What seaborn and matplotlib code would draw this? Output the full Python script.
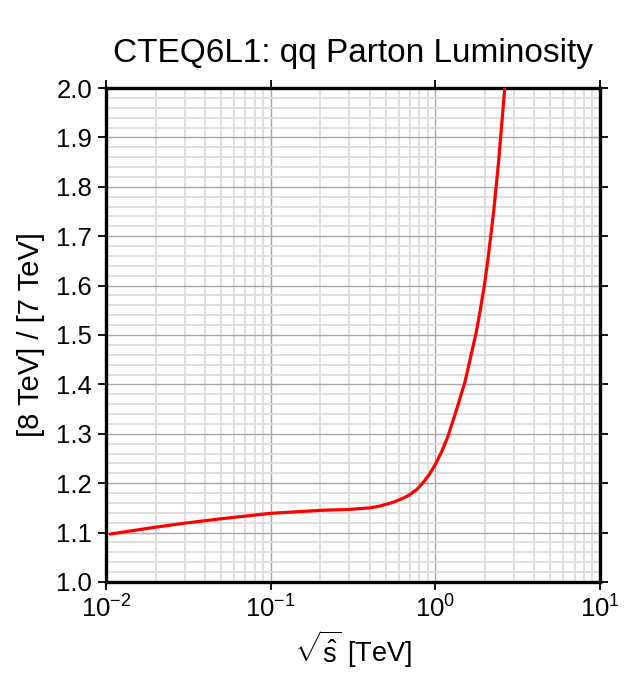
import numpy as np
import pandas as pd
import seaborn as sns
import matplotlib.pyplot as plt
from matplotlib.ticker import MultipleLocator, LogLocator, NullFormatter

# values
sqrt_s = [0.0106, 0.02, 0.03, 0.05, 0.1, 0.2, 0.3, 0.4, 0.45, 0.5, 0.55, 0.6, 0.65, 0.7,
          0.77, 0.837, 0.92, 1.0, 1.09, 1.19, 1.34, 1.51, 1.63, 1.77, 1.88, 1.99, 2.08,
          2.17, 2.26, 2.34, 2.42, 2.49, 2.565, 2.64]
lumi_ratio = [1.097, 1.111, 1.119, 1.128, 1.139, 1.145, 1.147, 1.150, 1.153, 1.157, 1.161,
              1.166, 1.171, 1.177, 1.187, 1.200, 1.218, 1.238, 1.263, 1.294, 1.347, 1.404,
              1.452, 1.505, 1.553, 1.603, 1.650, 1.700, 1.750, 1.800, 1.850, 1.900, 1.950,
              2.000]

title = "CTEQ6L1: qq Parton Luminosity"
x_label = r"$\sqrt{\hat{\mathrm{s}}}$ [TeV]"
y_label = "[8 TeV] / [7 TeV]"

sns.set_theme(style="ticks")
plt.rcParams['font.family'] = ['Liberation Sans', 'DejaVu Sans']
plt.rcParams['mathtext.fontset'] = 'custom'
plt.rcParams['mathtext.rm'] = 'Liberation Sans'
plt.rcParams['mathtext.it'] = 'Liberation Sans:italic'
plt.rcParams['text.color'] = 'black'
plt.rcParams['axes.labelcolor'] = 'black'

df = pd.DataFrame({"x": sqrt_s, "y": lumi_ratio})

fig = plt.figure(figsize=(6.44, 6.78), dpi=100)
ax = fig.add_axes([0.1646, 0.1416, 0.7671, 0.7286])

sns.lineplot(data=df, x="x", y="y", color="red", linewidth=2.3, ax=ax, zorder=5)

ax.set_xscale("log")
ax.set_xlim(1e-2, 1e1)
ax.set_ylim(1.0, 2.0)
ax.yaxis.set_major_locator(MultipleLocator(0.1))
ax.yaxis.set_minor_locator(MultipleLocator(0.02))
ax.xaxis.set_major_locator(LogLocator(base=10, numticks=10))
ax.xaxis.set_minor_locator(LogLocator(base=10, subs=np.arange(2, 10), numticks=20))
ax.xaxis.set_minor_formatter(NullFormatter())
ax.yaxis.set_major_formatter(plt.FuncFormatter(lambda v, p: f"{v:.1f}"))

ax.grid(which="minor", color="#dcdcdc", linewidth=1.3)
ax.grid(which="major", color="#a8a8a8", linewidth=1.0)
ax.set_axisbelow(True)

for s in ax.spines.values():
    s.set_linewidth(2.4)
    s.set_color("black")
    s.set_visible(True)

ax.tick_params(which="major", direction="out", length=6, width=1.3, top=True, right=True,
               labelsize=18.5, colors="black", pad=4)
ax.tick_params(which="minor", length=0)

ax.set_title(title, fontsize=24, pad=19)
ax.set_xlabel(x_label, fontsize=19.5, labelpad=4)
ax.set_ylabel(y_label, fontsize=21, labelpad=8)

fig.savefig("out.png", dpi=100)
